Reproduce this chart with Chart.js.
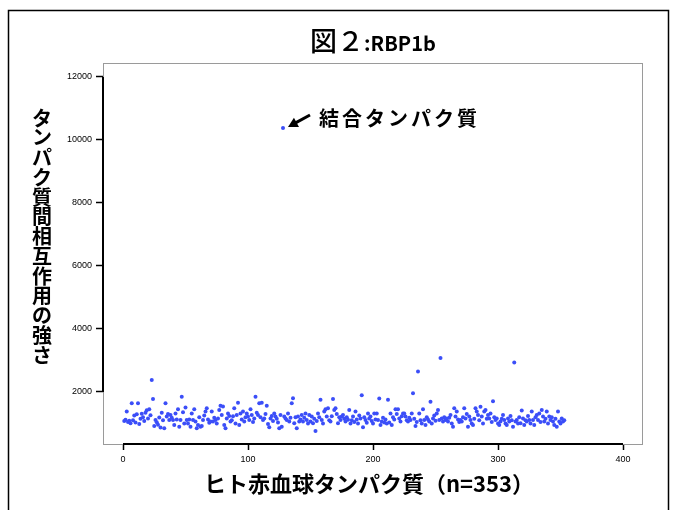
<!DOCTYPE html>
<html>
<head>
<meta charset="utf-8">
<script src="https://cdn.jsdelivr.net/npm/chart.js@4.4.1/dist/chart.umd.min.js"></script>
<style>
  html, body { margin: 0; padding: 0; background: #fff; }
  #wrap { width: 675px; height: 510px; }
</style>
</head>
<body>
<div id="wrap"><canvas id="scatterChart" width="675" height="510"></canvas></div>
<script>
const xTicks = [0, 100, 200, 300, 400];
const yTicks = [2000, 4000, 6000, 8000, 10000, 12000];

// interaction strength for each of the 353 erythrocyte proteins, in order
const intensity = [
  1080, 1120, 1380, 1050, 1090, 1010, 1640, 1100, 1250, 1030,
  1290, 1640, 980, 1150, 1310, 1200, 1080, 1340, 1420, 1160,
  1450, 1260, 2380, 1780, 920, 1110, 1040, 960, 1190, 870,
  1340, 1100, 850, 1640, 1220, 1300, 1110, 1270, 1180, 1110,
  950, 1320, 1130, 1450, 900, 1110, 1850, 1360, 1000, 1510,
  1110, 1000, 1130, 900, 1320, 1110, 1450, 1060, 850, 950,
  1200, 900, 920, 1110, 1250, 1380, 1480, 1130, 1020, 1060,
  1380, 1060, 1180, 1110, 1000, 1160, 1430, 1560, 1270, 1540,
  950, 850, 1160, 1320, 1240, 1060, 1100, 1230, 1480, 1000,
  1270, 1660, 950, 1320, 1130, 1380, 1060, 1200, 1320, 1220,
  1110, 1450, 1270, 1050, 1160, 1850, 1340, 1270, 1640, 1200,
  1660, 1110, 1160, 1300, 1560, 980, 880, 1160, 1240, 1080,
  1320, 1220, 1150, 1030, 850, 1270, 900, 10380, 1220, 1160,
  1110, 1320, 1060, 1180, 1640, 1800, 1010, 1200, 850, 1220,
  1060, 1130, 1270, 1060, 1180, 1320, 1110, 1000, 1270, 1060,
  1220, 1010, 1150, 760, 1080, 1320, 1200, 1750, 1110, 1000,
  1380, 1450, 1220, 1480, 1100, 1060, 1230, 1780, 1430, 1480,
  1300, 1010, 1200, 1110, 1220, 1270, 1150, 1060, 1200, 1120,
  1430, 1000, 1100, 1220, 1050, 1380, 1130, 1000, 1250, 1160,
  1900, 880, 1200, 1110, 1020, 1320, 1160, 1220, 1080, 1000,
  1320, 1130, 1320, 1110, 1790, 950, 1060, 1180, 1030, 1130,
  1000, 1750, 1030, 1320, 950, 1200, 1130, 1450, 1300, 1450,
  1160, 1060, 1230, 1320, 1320, 1220, 1100, 1060, 1180, 1110,
  1320, 1960, 1150, 920, 1050, 2650, 1320, 1100, 1000, 1450,
  1110, 950, 1200, 1130, 1060, 1690, 1000, 1160, 1250, 1090,
  1320, 1430, 1110, 3080, 1160, 1060, 1200, 1110, 1160, 1060,
  1180, 1270, 1000, 900, 1480, 1220, 1380, 1130, 1050, 1110,
  1060, 1200, 1480, 1160, 1300, 900, 1220, 1110, 1000, 950,
  1150, 1480, 1380, 1270, 1100, 1530, 1220, 1000, 1380, 1430,
  1150, 1270, 1160, 1320, 1050, 1710, 1200, 1110, 1160, 1000,
  950, 1060, 1150, 1270, 1110, 1000, 950, 1160, 1060, 1240,
  1100, 900, 2940, 1060, 1110, 1000, 1200, 1010, 1410, 1160,
  950, 1100, 1060, 1240, 1110, 1000, 1380, 1110, 950, 1200,
  1270, 1110, 1320, 1050, 1430, 1220, 1060, 1150, 1380, 1000,
  1220, 1110, 1200, 1060, 950, 1150, 900, 1380, 1060, 1000,
  1160, 1060, 1100
];

const titleMain = "図２";
const titleSub = ":RBP1b";
const yLabel = "タンパク質間相互作用の強さ";
const xLabel = "ヒト赤血球タンパク質（n=353）";
const noteText = "結合タンパク質";

const jp = "'Noto Sans CJK JP', 'Noto Sans', sans-serif";

// frame, box, axis lines and all the texts R drew around the plot
const decor = {
  id: "decor",
  beforeDraw(chart) {
    const { ctx, width, height } = chart;
    ctx.save();
    ctx.fillStyle = "#fff";
    ctx.fillRect(0, 0, width, height);
    ctx.restore();
  },
  beforeDatasetsDraw(chart) {
    const { ctx, chartArea: a } = chart;
    ctx.save();
    ctx.strokeStyle = "#9a9a9a";
    ctx.lineWidth = 1;
    ctx.strokeRect(a.left + 0.5, a.top + 0.5, a.right - a.left - 1, a.bottom - a.top);
    ctx.restore();
  },
  afterDraw(chart) {
    const { ctx, chartArea: a, scales: { x, y } } = chart;
    ctx.save();

    // outer frame (open at the bottom)
    ctx.strokeStyle = "#000";
    ctx.lineWidth = 1.5;
    ctx.beginPath();
    ctx.moveTo(8.5, 520);
    ctx.lineTo(8.5, 10.5);
    ctx.lineTo(668.5, 10.5);
    ctx.lineTo(668.5, 520);
    ctx.stroke();

    // axis lines only over the tick range
    ctx.lineWidth = 2;
    ctx.beginPath();
    ctx.moveTo(x.getPixelForValue(xTicks[0]), a.bottom);
    ctx.lineTo(x.getPixelForValue(xTicks[xTicks.length - 1]), a.bottom);
    ctx.moveTo(a.left, y.getPixelForValue(yTicks[0]));
    ctx.lineTo(a.left, y.getPixelForValue(yTicks[yTicks.length - 1]));
    ctx.stroke();

    ctx.fillStyle = "#000";
    ctx.textBaseline = "middle";

    // title
    const mainFont = "500 27px " + jp;
    const subFont = "bold 20px " + jp;
    ctx.font = mainFont;
    const w1 = ctx.measureText(titleMain).width;
    ctx.font = subFont;
    const w2 = ctx.measureText(titleSub).width;
    const tx = 373 - (w1 + w2) / 2;
    ctx.textAlign = "left";
    ctx.font = mainFont;
    ctx.fillText(titleMain, tx, 41);
    ctx.font = subFont;
    ctx.fillText(titleSub, tx + w1, 43);

    // y label, one character under another
    ctx.textAlign = "center";
    ctx.font = "bold 20px " + jp;
    [...yLabel].forEach((ch, i) => ctx.fillText(ch, 42, 118 + i * 19.75));

    // x label
    ctx.font = "bold 22px " + jp;
    ctx.fillText(xLabel, 369, 484);

    // arrow and note for the outlier
    const top = intensity.indexOf(Math.max(...intensity));
    const px = x.getPixelForValue(top + 1);
    const py = y.getPixelForValue(intensity[top]);
    const tipX = px + 5, tipY = py - 1;
    const tailX = px + 27, tailY = py - 13;
    const ang = Math.atan2(tipY - tailY, tipX - tailX);
    ctx.strokeStyle = "#000";
    ctx.lineWidth = 3;
    ctx.beginPath();
    ctx.moveTo(tailX, tailY);
    ctx.lineTo(tipX - 7 * Math.cos(ang), tipY - 7 * Math.sin(ang));
    ctx.stroke();
    ctx.beginPath();
    ctx.moveTo(tipX, tipY);
    ctx.lineTo(tipX - 11 * Math.cos(ang - 0.5), tipY - 11 * Math.sin(ang - 0.5));
    ctx.lineTo(tipX - 11 * Math.cos(ang + 0.5), tipY - 11 * Math.sin(ang + 0.5));
    ctx.closePath();
    ctx.fill();

    ctx.textAlign = "left";
    ctx.font = "bold 20px " + jp;
    ctx.letterSpacing = "3px";
    ctx.fillText(noteText, px + 36, py - 10);
    ctx.letterSpacing = "0px";

    ctx.restore();
  },
};

const ctx = document.getElementById("scatterChart").getContext("2d");
new Chart(ctx, {
  type: "scatter",
  data: {
    datasets: [
      {
        label: "RBP1b",
        data: intensity.map((v, i) => ({ x: i + 1, y: v })),
        backgroundColor: "#3b4ef8",
        borderColor: "#3b4ef8",
        borderWidth: 0,
        pointRadius: 2,
      },
    ],
  },
  options: {
    responsive: false,
    animation: false,
    devicePixelRatio: 1,
    layout: {
      padding: { left: 0, top: 63, right: 32, bottom: 0 },
    },
    plugins: {
      legend: { display: false },
      title: { display: false },
      tooltip: { enabled: false },
    },
    scales: {
      x: {
        type: "linear",
        min: -16,
        max: 416,
        afterBuildTicks: (s) => { s.ticks = xTicks.map((v) => ({ value: v })); },
        afterFit: (s) => { s.height = 66; },
        border: { display: false },
        grid: {
          drawOnChartArea: false,
          tickLength: 6,
          tickWidth: 1.5,
          tickColor: "#000",
        },
        ticks: {
          color: "#000",
          padding: 4,
          maxRotation: 0,
          font: { family: "'Liberation Sans', Arial", size: 9 },
          callback: (v) => String(v),
        },
      },
      y: {
        type: "linear",
        min: 349,
        max: 12444,
        afterBuildTicks: (s) => { s.ticks = yTicks.map((v) => ({ value: v })); },
        afterFit: (s) => { s.width = 103; },
        border: { display: false },
        grid: {
          drawOnChartArea: false,
          tickLength: 7,
          tickWidth: 1.5,
          tickColor: "#000",
        },
        ticks: {
          color: "#000",
          padding: 4,
          font: { family: "'Liberation Sans', Arial", size: 9 },
          callback: (v) => String(v),
        },
      },
    },
  },
  plugins: [decor],
});
</script>
</body>
</html>
